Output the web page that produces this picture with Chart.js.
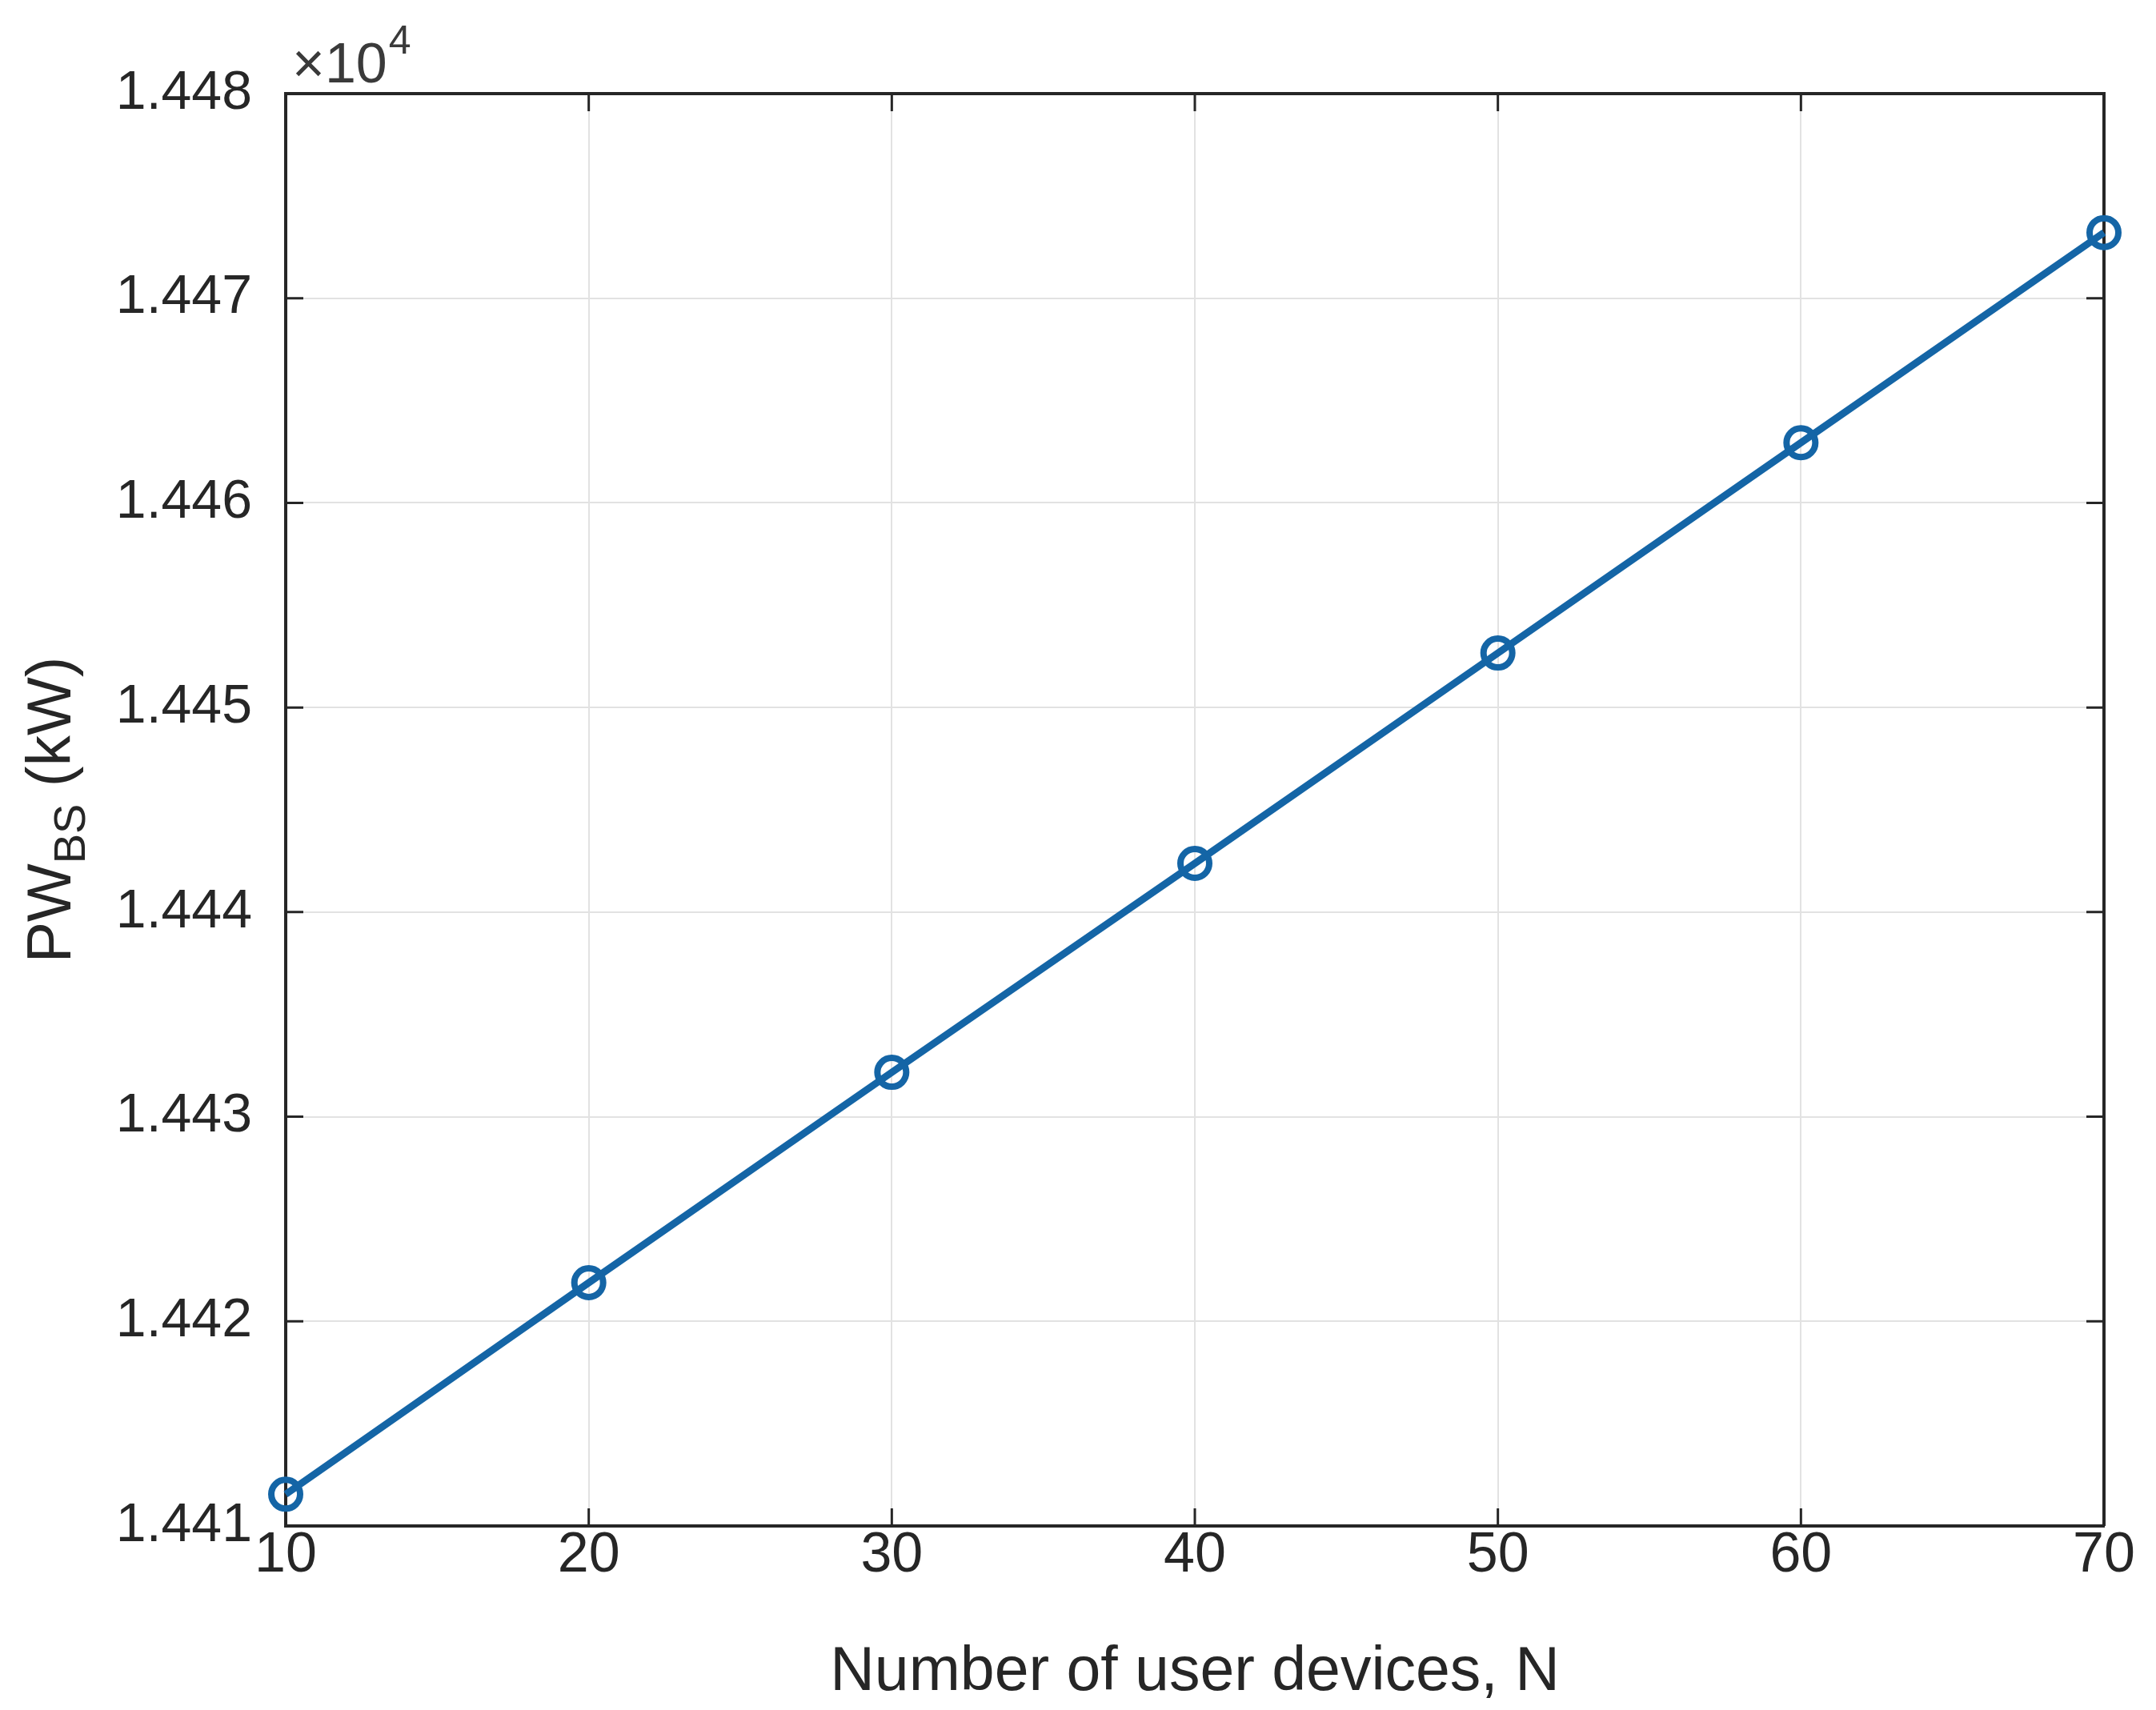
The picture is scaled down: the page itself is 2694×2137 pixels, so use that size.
<!DOCTYPE html>
<html lang="en">
<head>
  <meta charset="UTF-8" />
  <title>PW_BS vs number of user devices</title>
  <script src="https://cdn.jsdelivr.net/npm/chart.js"></script>
  <style>
    html, body { margin: 0; padding: 0; background: #ffffff; }
    canvas { display: block; }
  </style>
</head>
<body>
  <canvas id="pwChart" width="2694" height="2137"></canvas>

  <script>
    // data (y in kW)
    const devices = [10, 20, 30, 40, 50, 60, 70];
    const powerBS = [14411.55, 14421.89, 14432.17, 14442.38, 14452.66, 14462.94, 14473.21];

    const xTicks = [10, 20, 30, 40, 50, 60, 70];
    const yTicks = [14410, 14420, 14430, 14440, 14450, 14460, 14470, 14480];

    const xTitle = 'Number of user devices, N';
    const yTitleMain = 'PW';
    const yTitleSub = 'BS';
    const yTitleUnit = ' (kW)';
    const yExponent = '4';

    const FONT = "'Liberation Sans', Arial, Helvetica, sans-serif";
    const LINE_COLOR = '#1465a6';
    const TEXT_COLOR = '#262626';

    // box + inward ticks, and the rotated y title with subscript, and the x10^4 note
    const matlabAxes = {
      id: 'matlabAxes',
      beforeDatasetsDraw(chart) {
        const { ctx, chartArea: a, scales } = chart;
        ctx.save();
        ctx.strokeStyle = '#262626';
        ctx.lineWidth = 4;
        ctx.beginPath();
        ctx.moveTo(a.left, a.top);
        ctx.lineTo(a.right, a.top);
        ctx.lineTo(a.right, a.bottom);
        ctx.stroke();

        const len = 22;
        ctx.lineWidth = 3;
        ctx.beginPath();
        scales.x.ticks.forEach(t => {
          const px = scales.x.getPixelForValue(t.value);
          ctx.moveTo(px, a.bottom); ctx.lineTo(px, a.bottom - len);
          ctx.moveTo(px, a.top); ctx.lineTo(px, a.top + len);
        });
        scales.y.ticks.forEach(t => {
          const py = scales.y.getPixelForValue(t.value);
          ctx.moveTo(a.left, py); ctx.lineTo(a.left + len, py);
          ctx.moveTo(a.right, py); ctx.lineTo(a.right - len, py);
        });
        ctx.stroke();
        ctx.restore();
      },
      afterDraw(chart) {
        const { ctx, chartArea: a } = chart;
        ctx.save();
        ctx.fillStyle = TEXT_COLOR;

        // y axis title, rotated
        const big = 'normal 77px ' + FONT;
        const small = 'normal 56px ' + FONT;
        ctx.font = big;
        const wMain = ctx.measureText(yTitleMain).width;
        const wUnit = ctx.measureText(yTitleUnit).width;
        ctx.font = small;
        const wSub = ctx.measureText(yTitleSub).width;
        const total = wMain + wSub + wUnit;
        const cy = (a.top + a.bottom) / 2;
        ctx.translate(88, cy);
        ctx.rotate(-Math.PI / 2);
        ctx.textBaseline = 'alphabetic';
        ctx.textAlign = 'left';
        let x0 = -total / 2;
        ctx.font = big;
        ctx.fillText(yTitleMain, x0, 0);
        x0 += wMain;
        ctx.font = small;
        ctx.fillText(yTitleSub, x0, 18);
        x0 += wSub;
        ctx.font = big;
        ctx.fillText(yTitleUnit, x0, 0);
        ctx.setTransform(1, 0, 0, 1, 0, 0);

        // exponent note above the y axis
        ctx.font = 'normal 70px ' + FONT;
        ctx.textAlign = 'left';
        ctx.fillStyle = '#3a3a3a';
        const times = '\u00d710';
        ctx.fillText(times, a.left + 8, a.top - 14);
        const wt = ctx.measureText(times).width;
        ctx.font = 'normal 50px ' + FONT;
        ctx.fillText(yExponent, a.left + 8 + wt + 2, a.top - 50);
        ctx.restore();
      }
    };

    new Chart(document.getElementById('pwChart'), {
      type: 'line',
      data: {
        datasets: [{
          data: devices.map((d, i) => ({ x: d, y: powerBS[i] })),
          borderColor: LINE_COLOR,
          borderWidth: 9,
          pointStyle: 'circle',
          pointRadius: 18,
          pointBorderWidth: 8,
          pointBorderColor: LINE_COLOR,
          pointBackgroundColor: 'rgba(0,0,0,0)',
          tension: 0,
          clip: false
        }]
      },
      options: {
        responsive: false,
        animation: false,
        events: [],
        layout: { padding: { left: 0, top: 117, right: 65, bottom: 0 } },
        plugins: {
          legend: { display: false },
          tooltip: { enabled: false }
        },
        scales: {
          x: {
            type: 'linear',
            min: xTicks[0],
            max: xTicks[xTicks.length - 1],
            afterBuildTicks: scale => { scale.ticks = xTicks.map(v => ({ value: v })); },
            afterFit: scale => { scale.height = 230; },
            grid: { color: '#e2e2e2', lineWidth: 2, drawTicks: false },
            border: { display: true, color: '#262626', width: 4 },
            ticks: {
              color: TEXT_COLOR,
              font: { family: FONT, size: 70 },
              padding: -4,
              maxRotation: 0,
              autoSkip: false
            },
            title: {
              display: true,
              text: xTitle,
              color: TEXT_COLOR,
              font: { family: FONT, size: 77 },
              padding: 0
            }
          },
          y: {
            type: 'linear',
            min: yTicks[0],
            max: yTicks[yTicks.length - 1],
            afterBuildTicks: scale => { scale.ticks = yTicks.map(v => ({ value: v })); },
            afterFit: scale => { scale.width = 357; },
            grid: { color: '#e2e2e2', lineWidth: 2, drawTicks: false },
            border: { display: true, color: '#262626', width: 4 },
            ticks: {
              color: TEXT_COLOR,
              font: { family: FONT, size: 68 },
              padding: 42,
              autoSkip: false,
              callback: v => (v / 1e4).toFixed(3)
            }
          }
        }
      },
      plugins: [matlabAxes]
    });
  </script>
</body>
</html>
